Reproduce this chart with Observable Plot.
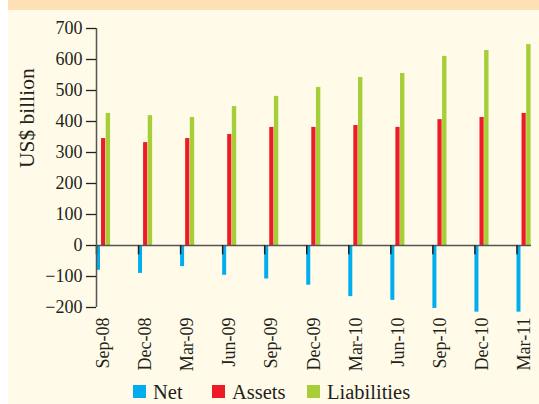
<!DOCTYPE html>
<html>
<head>
<meta charset="utf-8">
<script src="https://cdn.jsdelivr.net/npm/d3@7"></script>
<script src="https://cdn.jsdelivr.net/npm/@observablehq/plot@0.6"></script>
<style>
  html, body { margin: 0; padding: 0; background: #ffffff; }
  #wrap { position: relative; width: 539px; height: 404px; overflow: hidden; background: #ffffff; }
  #panel { position: absolute; left: 8px; top: 0; width: 531px; height: 404px; background: #fffbe8; }
  #band { position: absolute; left: 8px; top: 0; width: 531px; height: 10px; background: #fde1b4; }
  #chart { position: absolute; left: 8px; top: 10px; }
  .leg-sw { position: absolute; top: 385px; width: 13px; height: 13px; }
  .leg-tx { position: absolute; top: 382px; line-height: 20px; font-family: "Liberation Serif", "Times New Roman", serif; font-size: 20.5px; color: #231f20; white-space: nowrap; }
</style>
</head>
<body>
<div id="wrap">
  <div id="panel"></div>
  <div id="band"></div>
  <div id="chart"></div>
</div>
<script>
// ---- data ----
const dates = ["Sep-08","Dec-08","Mar-09","Jun-09","Sep-09","Dec-09","Mar-10","Jun-10","Sep-10","Dec-10","Mar-11"];
const net = [-80, -90, -68, -96, -108, -128, -165, -177, -203, -215, -215];
const assets = [345, 332, 345, 358, 381, 381, 387, 381, 406, 413, 426];
const liabilities = [426, 419, 413, 448, 481, 510, 542, 555, 610, 629, 648];
const seriesNames = ["Net", "Assets", "Liabilities"];
const seriesColors = ["#00aeef", "#ed1c24", "#a6ce39"];
const yTicks = [-200, -100, 0, 100, 200, 300, 400, 500, 600, 700];

// ---- table ----
const values = {Net: net, Assets: assets, Liabilities: liabilities};
const rows = dates.flatMap((d, i) => seriesNames.map(s => ({i, date: d, series: s, value: values[s][i]})));

// bar slots within each quarter (fraction of the quarter step)
const slot = {Net: [0, 0.095], Assets: [0.12, 0.22], Liabilities: [0.23, 0.335]};
const xDomain = [0, dates.length - 1 + 0.345];
const font = "'Liberation Serif', 'Times New Roman', serif";
const ink = "#231f20";

const chart = Plot.plot({
  width: 531,
  height: 372,
  marginLeft: 88,
  marginRight: 8,
  marginTop: 18,
  marginBottom: 75,
  style: {fontFamily: font, fontSize: "18px", color: ink, background: "transparent", overflow: "visible"},
  x: {domain: xDomain},
  y: {domain: [-200, 700]},
  color: {domain: seriesNames, range: seriesColors},
  marks: [
    Plot.rect(rows, {
      x1: d => d.i + slot[d.series][0],
      x2: d => d.i + slot[d.series][1],
      y1: 0,
      y2: "value",
      fill: "series"
    }),
    Plot.ruleY([0], {stroke: "#555", strokeWidth: 1.5}),
    Plot.ruleX(d3.range(dates.length), {x: d => d, y1: 0, y2: -30, stroke: ink, strokeWidth: 1.5}),
    Plot.ruleX([xDomain[0]], {stroke: "#555", strokeWidth: 1.5}),
    Plot.axisY(yTicks, {tickSize: 10, tickPadding: 4, label: null, strokeWidth: 1.3}),
    Plot.axisX(d3.range(dates.length), {tickFormat: i => dates[i], tickRotate: -90, tickSize: 0, tickPadding: 10, dx: 7, label: null}),
    Plot.text(["US$ billion"], {frameAnchor: "left", rotate: -90, dx: -69, fontSize: 21.5, fill: ink})
  ]
});
document.getElementById("chart").appendChild(chart);

// ---- legend ----
const legendSwatchX = [133, 212, 307];
const wrap = document.getElementById("wrap");
seriesNames.forEach((name, k) => {
  const sw = document.createElement("div");
  sw.className = "leg-sw";
  sw.style.left = legendSwatchX[k] + "px";
  sw.style.background = seriesColors[k];
  wrap.appendChild(sw);
  const tx = document.createElement("div");
  tx.className = "leg-tx";
  tx.style.left = (legendSwatchX[k] + 20) + "px";
  tx.textContent = name;
  wrap.appendChild(tx);
});
</script>
</body>
</html>
